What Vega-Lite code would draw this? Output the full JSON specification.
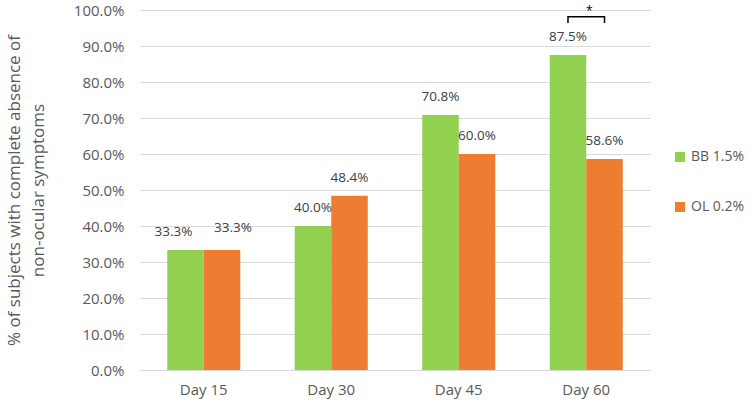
{
  "$schema": "https://vega.github.io/schema/vega-lite/v6.json",
  "width": 510,
  "height": 360,
  "autosize": {"type": "none"},
  "padding": {"left": 140, "top": 10, "right": 100, "bottom": 34},
  "background": "white",
  "config": {
    "font": "Open Sans",
    "view": {"stroke": null}
  },
  "datasets": {
    "bars": [
      {"day": "Day 15", "group": "BB 1.5%", "value": 0.333},
      {"day": "Day 15", "group": "OL 0.2%", "value": 0.333},
      {"day": "Day 30", "group": "BB 1.5%", "value": 0.400},
      {"day": "Day 30", "group": "OL 0.2%", "value": 0.484},
      {"day": "Day 45", "group": "BB 1.5%", "value": 0.708},
      {"day": "Day 45", "group": "OL 0.2%", "value": 0.600},
      {"day": "Day 60", "group": "BB 1.5%", "value": 0.875},
      {"day": "Day 60", "group": "OL 0.2%", "value": 0.586}
    ],
    "bracket": [
      {"day": "Day 60", "group": "BB 1.5%", "value": 0.964, "k": 0},
      {"day": "Day 60", "group": "BB 1.5%", "value": 0.981, "k": 1},
      {"day": "Day 60", "group": "OL 0.2%", "value": 0.981, "k": 2},
      {"day": "Day 60", "group": "OL 0.2%", "value": 0.964, "k": 3}
    ],
    "star": [
      {"day": "Day 60", "value": 0.997, "label": "*"}
    ]
  },
  "encoding": {
    "x": {
      "field": "day", "type": "nominal", "sort": null,
      "scale": {"paddingInner": 0.427, "paddingOuter": 0.2135},
      "axis": {
        "title": null, "labelAngle": 0, "labelFontSize": 15, "labelColor": "#595959",
        "labelPadding": 12, "ticks": false, "domainColor": "#D9D9D9", "domainWidth": 1, "grid": false
      }
    },
    "y": {
      "field": "value", "type": "quantitative",
      "scale": {"domain": [0, 1], "nice": false},
      "axis": {
        "values": [0, 0.1, 0.2, 0.3, 0.4, 0.5, 0.6, 0.7, 0.8, 0.9, 1.0],
        "labelOverlap": false,
        "format": ".1%", "labelFontSize": 15, "labelColor": "#595959", "labelPadding": 16,
        "ticks": false, "domain": false, "gridColor": "#D9D9D9", "gridWidth": 1,
        "title": ["% of subjects with complete absence of", "non-ocular symptoms"],
        "titleFontSize": 17, "titleFontWeight": "normal", "titleColor": "#595959",
        "titleLineHeight": 24, "titlePadding": 26
      }
    }
  },
  "layer": [
    {
      "data": {"name": "bars"},
      "mark": {"type": "bar"},
      "encoding": {
        "xOffset": {"field": "group", "type": "nominal", "scale": {"paddingInner": 0, "paddingOuter": 0}},
        "color": {
          "field": "group", "type": "nominal",
          "scale": {"domain": ["BB 1.5%", "OL 0.2%"], "range": ["#92D050", "#ED7D31"]},
          "legend": {
            "title": null, "orient": "none", "legendX": 533, "legendY": 140,
            "symbolType": "square", "symbolSize": 100, "symbolStrokeWidth": 0,
            "labelFontSize": 14, "labelColor": "#595959", "rowPadding": 36, "labelOffset": 4, "padding": 0
          }
        }
      }
    },
    {
      "data": {"name": "bars"},
      "transform": [{"filter": "datum.day !== 'Day 15'"}],
      "mark": {"type": "text", "baseline": "middle", "dy": -18, "fontSize": 13.5, "color": "#404040"},
      "encoding": {
        "xOffset": {"field": "group", "type": "nominal"},
        "text": {"field": "value", "type": "quantitative", "format": ".1%"}
      }
    },
    {
      "data": {"name": "bars"},
      "transform": [{"filter": "datum.day === 'Day 15' && datum.group === 'BB 1.5%'"}],
      "mark": {"type": "text", "baseline": "middle", "dy": -18, "dx": -12, "fontSize": 13.5, "color": "#404040"},
      "encoding": {
        "xOffset": {"field": "group", "type": "nominal"},
        "text": {"field": "value", "type": "quantitative", "format": ".1%"}
      }
    },
    {
      "data": {"name": "bars"},
      "transform": [{"filter": "datum.day === 'Day 15' && datum.group === 'OL 0.2%'"}],
      "mark": {"type": "text", "baseline": "middle", "dy": -22, "dx": 11, "fontSize": 13.5, "color": "#404040"},
      "encoding": {
        "xOffset": {"field": "group", "type": "nominal"},
        "text": {"field": "value", "type": "quantitative", "format": ".1%"}
      }
    },
    {
      "data": {"name": "bracket"},
      "mark": {"type": "line", "color": "#000000", "strokeWidth": 1.5},
      "encoding": {
        "xOffset": {"field": "group", "type": "nominal"},
        "order": {"field": "k", "type": "quantitative"}
      }
    },
    {
      "data": {"name": "star"},
      "mark": {"type": "text", "baseline": "middle", "fontSize": 12, "color": "#000000", "dx": 3},
      "encoding": {
        "text": {"field": "label"}
      }
    }
  ]
}
